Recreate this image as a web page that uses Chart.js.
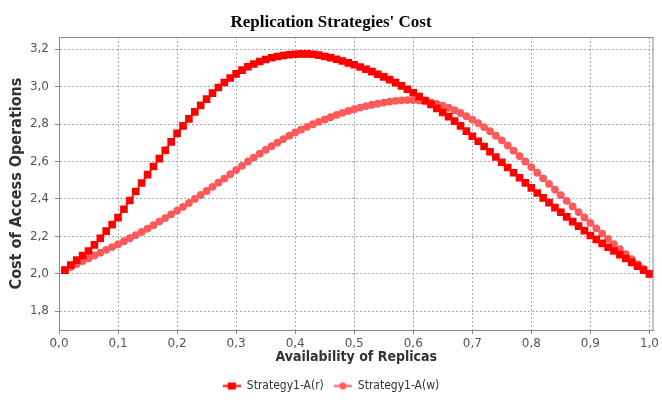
<!DOCTYPE html>
<html>
<head>
<meta charset="utf-8">
<script src="https://cdn.jsdelivr.net/npm/chart.js@4.4.1/dist/chart.umd.min.js"></script>
<style>
  html, body { margin: 0; padding: 0; background: #fff; }
  #wrap { width: 662px; height: 403px; position: relative; }
</style>
</head>
<body>
<div id="wrap"><canvas id="chart"></canvas></div>
<script>
// availability of replicas (x), one point every 0.01
const availability = [
  0.01, 0.02, 0.03, 0.04, 0.05, 0.06, 0.07, 0.08, 0.09, 0.10,
  0.11, 0.12, 0.13, 0.14, 0.15, 0.16, 0.17, 0.18, 0.19, 0.20,
  0.21, 0.22, 0.23, 0.24, 0.25, 0.26, 0.27, 0.28, 0.29, 0.30,
  0.31, 0.32, 0.33, 0.34, 0.35, 0.36, 0.37, 0.38, 0.39, 0.40,
  0.41, 0.42, 0.43, 0.44, 0.45, 0.46, 0.47, 0.48, 0.49, 0.50,
  0.51, 0.52, 0.53, 0.54, 0.55, 0.56, 0.57, 0.58, 0.59, 0.60,
  0.61, 0.62, 0.63, 0.64, 0.65, 0.66, 0.67, 0.68, 0.69, 0.70,
  0.71, 0.72, 0.73, 0.74, 0.75, 0.76, 0.77, 0.78, 0.79, 0.80,
  0.81, 0.82, 0.83, 0.84, 0.85, 0.86, 0.87, 0.88, 0.89, 0.90,
  0.91, 0.92, 0.93, 0.94, 0.95, 0.96, 0.97, 0.98, 0.99, 1.00
];

// Strategy1-A(r)
const costRead = [
  2.020, 2.047, 2.073, 2.098, 2.122, 2.155, 2.190, 2.228, 2.263, 2.300,
  2.345, 2.392, 2.440, 2.485, 2.530, 2.573, 2.615, 2.660, 2.705, 2.750,
  2.790, 2.828, 2.865, 2.900, 2.933, 2.965, 2.995, 3.022, 3.046, 3.068,
  3.088, 3.106, 3.121, 3.134, 3.145, 3.154, 3.161, 3.166, 3.170, 3.173,
  3.175, 3.175, 3.173, 3.168, 3.161, 3.155, 3.146, 3.137, 3.127, 3.117,
  3.105, 3.093, 3.080, 3.066, 3.052, 3.037, 3.021, 3.004, 2.986, 2.967,
  2.947, 2.926, 2.905, 2.884, 2.862, 2.840, 2.816, 2.790, 2.762, 2.735,
  2.708, 2.680, 2.652, 2.624, 2.596, 2.568, 2.540, 2.513, 2.486, 2.459,
  2.432, 2.406, 2.380, 2.354, 2.329, 2.304, 2.279, 2.255, 2.231, 2.205,
  2.184, 2.163, 2.142, 2.122, 2.102, 2.082, 2.061, 2.041, 2.020, 2.000
];

// Strategy1-A(w)
const costWrite = [
  2.020, 2.036, 2.052, 2.068, 2.083, 2.098, 2.113, 2.128, 2.143, 2.158,
  2.174, 2.190, 2.207, 2.224, 2.242, 2.260, 2.279, 2.298, 2.318, 2.338,
  2.358, 2.379, 2.400, 2.421, 2.443, 2.465, 2.487, 2.509, 2.532, 2.554,
  2.577, 2.600, 2.621, 2.642, 2.662, 2.682, 2.701, 2.720, 2.738, 2.755,
  2.770, 2.785, 2.799, 2.812, 2.825, 2.837, 2.849, 2.860, 2.870, 2.879,
  2.888, 2.896, 2.903, 2.909, 2.915, 2.920, 2.924, 2.927, 2.928, 2.928,
  2.926, 2.922, 2.916, 2.908, 2.898, 2.887, 2.874, 2.859, 2.842, 2.824,
  2.805, 2.784, 2.762, 2.738, 2.713, 2.686, 2.658, 2.629, 2.600, 2.570,
  2.540, 2.510, 2.480, 2.450, 2.420, 2.390, 2.360, 2.330, 2.301, 2.272,
  2.243, 2.215, 2.187, 2.159, 2.132, 2.105, 2.078, 2.052, 2.026, 2.000
];

const seriesNames = ['Strategy1-A(r)', 'Strategy1-A(w)'];
const xTicks = [0.0, 0.1, 0.2, 0.3, 0.4, 0.5, 0.6, 0.7, 0.8, 0.9, 1.0];
const yTicks = [1.8, 2.0, 2.2, 2.4, 2.6, 2.8, 3.0, 3.2];

const RED = '#ff0000';
const LIGHT_RED = '#ff5a5a';
const GRID = '#a8a8a8';

// legend sample: short line with the series shape on it
function legendIcon(color, shape) {
  const c = document.createElement('canvas');
  c.width = 18;
  c.height = 9;
  const g = c.getContext('2d');
  g.strokeStyle = color;
  g.fillStyle = color;
  g.lineWidth = 2;
  g.beginPath();
  g.moveTo(0, 4.5);
  g.lineTo(18, 4.5);
  g.stroke();
  if (shape === 'rect') {
    g.fillRect(5, 1, 8, 7);
  } else {
    g.beginPath();
    g.arc(9, 4.5, 3.5, 0, Math.PI * 2);
    g.fill();
  }
  return c;
}
const icons = [legendIcon(RED, 'rect'), legendIcon(LIGHT_RED, 'circle')];

const comma = v => Number(v).toFixed(1).replace('.', ',');

// frame round the plot area
const plotFrame = {
  id: 'plotFrame',
  afterDatasetsDraw(chart) {
    const { ctx, chartArea: a } = chart;
    ctx.save();
    ctx.strokeStyle = '#8a8a8a';
    ctx.lineWidth = 1;
    ctx.strokeRect(a.left + 0.5, a.top + 0.5, a.right - a.left - 1, a.bottom - a.top);
    ctx.restore();
  }
};

const ctx = document.getElementById('chart').getContext('2d');
new Chart(ctx, {
  type: 'line',
  data: {
    datasets: [
      {
        label: seriesNames[0],
        data: availability.map((x, i) => ({ x: x, y: costRead[i] })),
        borderColor: RED,
        backgroundColor: RED,
        borderWidth: 1.5,
        pointStyle: 'rect',
        pointRadius: 5.4,
        pointBorderWidth: 0,
        pointBackgroundColor: RED
      },
      {
        label: seriesNames[1],
        data: availability.map((x, i) => ({ x: x, y: costWrite[i] })),
        borderColor: LIGHT_RED,
        backgroundColor: LIGHT_RED,
        borderWidth: 1.5,
        pointStyle: 'circle',
        pointRadius: 3.9,
        pointBorderWidth: 0,
        pointBackgroundColor: LIGHT_RED
      }
    ]
  },
  options: {
    responsive: true,
    maintainAspectRatio: false,
    animation: false,
    layout: { padding: { top: 0, right: 0, bottom: 1, left: 0 } },
    scales: {
      x: {
        type: 'linear',
        min: 0,
        max: 1.007,
        afterBuildTicks: scale => { scale.ticks = xTicks.map(v => ({ value: v })); },
        afterFit: scale => { scale.height = 40; },
        grid: {
          color: GRID,
          lineWidth: 1,
          tickLength: 4,
          tickColor: '#8a8a8a',
          tickBorderDash: []
        },
        border: { display: true, color: '#8a8a8a', dash: [2, 2] },
        ticks: {
          padding: 3,
          color: '#555',
          font: { family: 'DejaVu Sans', size: 12 },
          callback: v => comma(v)
        },
        title: {
          display: true,
          text: 'Availability of Replicas',
          color: '#333',
          font: { family: "'DejaVu Sans Condensed', 'DejaVu Sans'", size: 14, weight: 'bold' },
          padding: { top: 0, bottom: 4 }
        }
      },
      y: {
        type: 'linear',
        min: 1.7,
        max: 3.265,
        afterBuildTicks: scale => { scale.ticks = yTicks.map(v => ({ value: v })); },
        afterFit: scale => { scale.width = 59; },
        grid: {
          color: GRID,
          lineWidth: 1,
          tickLength: 4,
          tickColor: '#8a8a8a',
          tickBorderDash: []
        },
        border: { display: true, color: '#8a8a8a', dash: [2, 2] },
        ticks: {
          padding: 6,
          color: '#555',
          font: { family: 'DejaVu Sans', size: 12 },
          callback: v => comma(v)
        },
        title: {
          display: true,
          text: 'Cost of Access Operations',
          color: '#333',
          font: { family: "'DejaVu Sans Condensed', 'DejaVu Sans'", size: 16, weight: 'bold' },
          padding: { top: 7, bottom: 0 }
        }
      }
    },
    plugins: {
      title: {
        display: true,
        text: "Replication Strategies' Cost",
        color: '#000',
        font: { family: "'Liberation Serif', serif", size: 17, weight: 'bold' },
        padding: { top: 12, bottom: 4.6 }
      },
      legend: {
        position: 'bottom',
        labels: {
          usePointStyle: true,
          pointStyleWidth: 18,
          padding: 10,
          color: '#333',
          font: { family: "'DejaVu Sans Condensed', 'DejaVu Sans'", size: 12 },
          generateLabels: chart => {
            const items = Chart.defaults.plugins.legend.labels.generateLabels(chart);
            items.forEach((item, i) => { item.pointStyle = icons[i]; });
            return items;
          }
        }
      },
      tooltip: { enabled: false }
    }
  },
  plugins: [plotFrame]
});
</script>
</body>
</html>
